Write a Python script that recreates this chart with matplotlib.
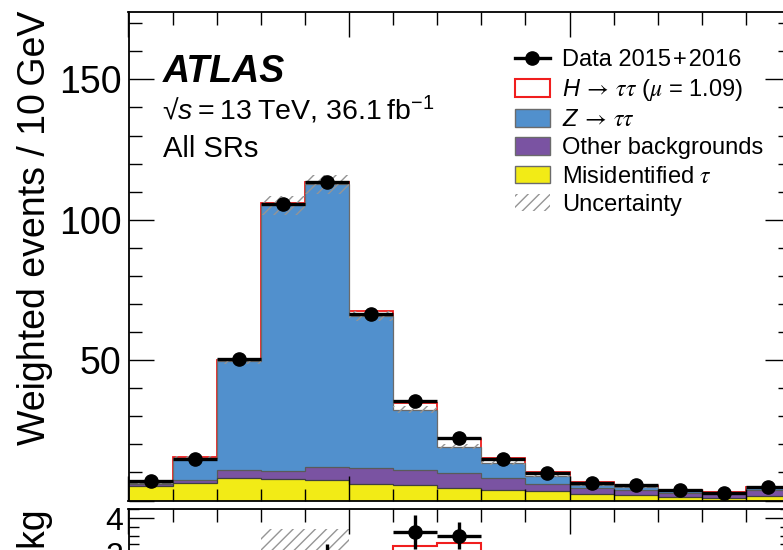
import numpy as np
import matplotlib
matplotlib.use("Agg")
import matplotlib.pyplot as plt
from matplotlib.patches import Patch
from matplotlib.lines import Line2D
from matplotlib.ticker import MultipleLocator, FuncFormatter

plt.rcParams['font.family'] = ['Liberation Sans', 'DejaVu Sans']
plt.rcParams['mathtext.fontset'] = 'custom'
plt.rcParams['mathtext.rm'] = 'Liberation Sans'
plt.rcParams['mathtext.it'] = 'Liberation Sans:italic'
plt.rcParams['mathtext.bf'] = 'Liberation Sans:bold'
# greek letters and arrows in a symbol-like face
plt.rcParams['mathtext.cal'] = 'STIXGeneral:italic'
plt.rcParams['mathtext.sf'] = 'STIXGeneral'
plt.rcParams['mathtext.fallback'] = 'stix'
plt.rcParams['hatch.linewidth'] = 1.0

# mass bins [GeV], 10 GeV wide
bin_edges = np.arange(50, 201, 10)

# weighted events per bin
data = np.array([7.0, 14.7, 50.3, 105.6, 113.3, 66.4, 35.5, 22.2, 14.7, 9.7, 6.1, 5.4, 3.6, 2.7, 4.8])
data_err = np.array([0.9, 1.2, 1.4, 1.6, 1.9, 1.3, 0.95, 0.75, 0.7, 0.6, 0.5, 0.5, 0.4, 0.4, 0.5])
misid = np.array([5.0, 6.1, 7.9, 7.7, 7.4, 6.0, 5.5, 4.3, 3.9, 3.3, 2.2, 1.9, 1.3, 0.9, 1.5])
other = np.array([0.8, 1.2, 3.0, 2.9, 4.5, 5.6, 5.4, 5.5, 4.1, 2.5, 2.3, 2.0, 1.4, 1.3, 2.1])
ztautau = np.array([0.6, 8.0, 38.8, 94.6, 100.8, 54.0, 21.4, 9.4, 5.5, 3.0, 1.1, 0.8, 0.6, 0.3, 0.8])
signal = np.array([0.1, 0.2, 0.5, 0.6, 0.9, 1.8, 2.4, 2.6, 1.5, 1.2, 0.9, 0.6, 0.5, 0.4, 0.4])
bkg_unc = np.array([0.4, 0.6, 1.2, 3.4, 3.4, 1.8, 1.2, 0.9, 0.7, 0.5, 0.4, 0.4, 0.3, 0.3, 0.4])

c_z = '#5190cd'
c_oth = '#7a53a2'
c_fake = '#f2eb16'
c_sig = '#f01e1e'
c_hatch = '#959595'

bkg = misid + other + ztautau
centers = 0.5 * (bin_edges[1:] + bin_edges[:-1])
half_w = 0.5 * np.diff(bin_edges)

W, H = 783, 550
fig = plt.figure(figsize=(W / 100, H / 100), dpi=100)


def px_axes(left, top, right, bottom):
    return fig.add_axes([left / W, 1 - bottom / H, (right - left) / W, (bottom - top) / H])


ax = px_axes(128.5, 12, 790, 500.5)
rax = px_axes(128.5, 509.3, 790, 509.3 + 7 * 17.5)

# stacked histogram
ax.stairs(bkg + signal, bin_edges, fill=True, facecolor='white', edgecolor=c_sig, lw=1.3)
ax.stairs(bkg, bin_edges, fill=True, facecolor=c_z, edgecolor='#6b6b6b', lw=0.9)
ax.stairs(misid + other, bin_edges, fill=True, facecolor=c_oth, edgecolor='#5a5a5a', lw=0.9)
ax.stairs(misid, bin_edges, fill=True, facecolor=c_fake, edgecolor='#404040', lw=0.9)
ax.stairs(bkg + bkg_unc, bin_edges, baseline=bkg - bkg_unc, fill=True,
          facecolor='none', edgecolor=c_hatch, hatch='///', lw=0)
ax.errorbar(centers, data, xerr=half_w, yerr=data_err, fmt='o', color='k',
            ms=9.5, elinewidth=2.4, capsize=0)

# lower panel: data minus background
rax.stairs(bkg_unc, bin_edges, baseline=-bkg_unc, fill=True,
           facecolor='none', edgecolor=c_hatch, hatch='///', lw=0)
rax.stairs(signal, bin_edges, baseline=0, color=c_sig, lw=1.5)
rax.errorbar(centers, data - bkg, xerr=half_w, yerr=data_err, fmt='o', color='k',
             ms=9.5, elinewidth=2.4, capsize=0)

for a in (ax, rax):
    a.set_xlim(bin_edges[0], bin_edges[-1])
    a.xaxis.set_major_locator(MultipleLocator(50))
    a.xaxis.set_minor_locator(MultipleLocator(10))
    a.tick_params(which='both', direction='in', top=True, right=True, width=1.0)
    a.tick_params(which='major', length=18)
    a.tick_params(which='minor', length=9)
    a.tick_params(labelbottom=False)
    for s in a.spines.values():
        s.set_linewidth(1.3)

ax.set_ylim(0, 174)
ax.yaxis.set_major_locator(MultipleLocator(50))
ax.yaxis.set_minor_locator(MultipleLocator(10))
ax.yaxis.set_major_formatter(FuncFormatter(lambda v, p: '' if v == 0 else f'{v:g}'))
ax.tick_params(labelsize=27, pad=5)

rax.set_ylim(-2.5, 4.5)
rax.yaxis.set_major_locator(MultipleLocator(2))
rax.yaxis.set_minor_locator(MultipleLocator(0.5))
# only the upper labels fall inside the picture
rax.yaxis.set_major_formatter(FuncFormatter(lambda v, p: f'{v:g}' if v > 0 else ''))
rax.tick_params(axis='y', which='minor', length=7)
rax.tick_params(labelsize=23, pad=4)

fig.text(45 / W, 1 - 11 / H, 'Weighted events / 10\u2009GeV', rotation=90,
         ha='right', va='baseline', rotation_mode='anchor', fontsize=27)
fig.text(45 / W, 1 - 509 / H, 'Data \u2212 Bkg', rotation=90,
         ha='right', va='baseline', rotation_mode='anchor', fontsize=27)

fig.text(163 / W, 1 - 82 / H, 'ATLAS', fontsize=27, weight='bold', style='italic')
fig.text(162 / W, 1 - 120 / H, '\u221a$s$\u2009=\u200913\u2009TeV, 36.1\u2009fb$^{-1}$', fontsize=20.5)
fig.text(163 / W, 1 - 157 / H, 'All SRs', fontsize=21)

handles = [
    Line2D([], [], color='k', marker='o', ms=9.5, lw=2.4),
    Patch(facecolor='white', edgecolor=c_sig, lw=1.5),
    Patch(facecolor=c_z, edgecolor='#6b6b6b', lw=1),
    Patch(facecolor=c_oth, edgecolor='#6b6b6b', lw=1),
    Patch(facecolor=c_fake, edgecolor='#6b6b6b', lw=1),
    Patch(facecolor='white', edgecolor=c_hatch, hatch='///', lw=0),
]
labels = [
    'Data 2015\u200a+\u200a2016',
    r'$H\,\mathsf{\rightarrow}\,\mathcal{\tau\tau}$ ($\mathcal{\mu}$ = 1.09)',
    r'$Z\,\mathsf{\rightarrow}\,\mathcal{\tau\tau}$',
    'Other backgrounds',
    r'Misidentified $\mathcal{\tau}$',
    'Uncertainty',
]
ax.legend(handles, labels, loc='upper left', bbox_to_anchor=(515 / W, 1 - 49 / H),
          bbox_transform=fig.transFigure, frameon=False, fontsize=17,
          handlelength=1.48, handleheight=0.76, handletextpad=0.5,
          labelspacing=0.26, borderpad=0, borderaxespad=0)

fig.savefig('out.png', dpi=100)
